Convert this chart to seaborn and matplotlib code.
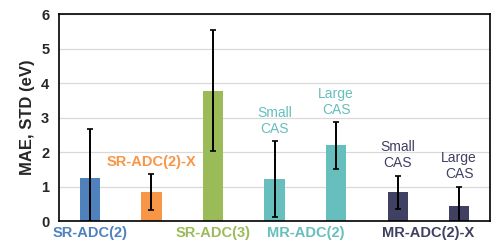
import numpy as np
import pandas as pd
import seaborn as sns
import matplotlib.pyplot as plt
import matplotlib.transforms as mtransforms

methods = ['SR-ADC(2)', 'SR-ADC(2)-X', 'SR-ADC(3)', 'MR-ADC(2) small', 'MR-ADC(2) large',
           'MR-ADC(2)-X small', 'MR-ADC(2)-X large']
mae = [1.26, 0.83, 3.78, 1.21, 2.19, 0.83, 0.43]
std = [1.42, 0.52, 1.76, 1.10, 0.68, 0.48, 0.56]
colors = ['#4F81BD', '#F79646', '#9BBB59', '#66BFBC', '#66BFBC', '#404062', '#404062']

df = pd.DataFrame({'method': methods, 'mae': mae, 'std': std})

sns.set_style('white')
plt.rcParams['font.family'] = ['Liberation Sans', 'DejaVu Sans']

fig = plt.figure(figsize=(4.98, 2.52), dpi=100)
ax = fig.add_axes([0.1185, 0.123, 0.8655, 0.821])

sns.barplot(data=df, x='method', y='mae', hue='method', palette=colors,
            width=0.33, legend=False, ax=ax, saturation=1, linewidth=0)
ax.errorbar(np.arange(len(methods)), df['mae'], yerr=df['std'], fmt='none',
            ecolor='black', elinewidth=1.4, capsize=2, capthick=1.2, zorder=5)

ax.set_ylim(0, 6)
ax.set_xlim(-0.5, len(methods) - 0.5)
ax.set_yticks(range(7))
ax.yaxis.grid(True, color='#d9d9d9', linewidth=0.9)
ax.set_axisbelow(True)
ax.set_xticks([])
ax.set_xlabel('')
ax.set_ylabel('MAE, STD (eV)', fontsize=12, fontweight='bold')
for lbl in ax.get_yticklabels():
    lbl.set_fontweight('bold')
    lbl.set_fontsize(10.5)
ax.tick_params(axis='y', length=0, pad=7)
for s in ax.spines.values():
    s.set_color('black')
    s.set_linewidth(1.2)

trans = mtransforms.blended_transform_factory(ax.transData, ax.transAxes)
group_labels = [('SR-ADC(2)', 0, '#4F81BD'), ('SR-ADC(3)', 2, '#9BBB59'),
                ('MR-ADC(2)', 3.5, '#66BFBC'), ('MR-ADC(2)-X', 5.5, '#404062')]
for txt, xpos, c in group_labels:
    ax.text(xpos, -0.058, txt, transform=trans, ha='center', va='center',
            fontsize=10.5, fontweight='bold', color=c)

ax.text(1, 1.72, 'SR-ADC(2)-X', ha='center', va='center', fontsize=10.5,
        fontweight='bold', color='#F79646')

cas_labels = [(3, 2.90, '#66BFBC', 'Small\nCAS'), (4, 3.46, '#66BFBC', 'Large\nCAS'),
              (5, 1.91, '#404062', 'Small\nCAS'), (6, 1.59, '#404062', 'Large\nCAS')]
for xpos, ypos, c, txt in cas_labels:
    ax.text(xpos, ypos, txt, ha='center', va='center', fontsize=10, color=c,
            linespacing=1.2)

fig.savefig('out.png', dpi=100)
